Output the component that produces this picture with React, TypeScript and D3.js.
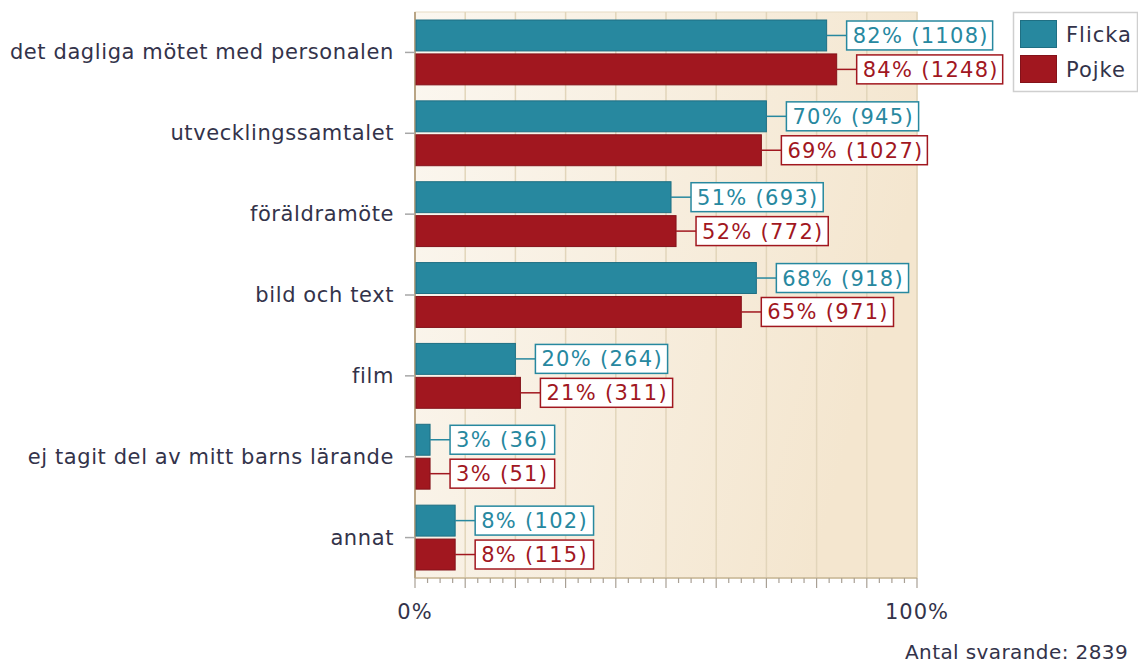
import React from "react";
import * as d3 from "d3";

const categories = [
  "det dagliga mötet med personalen",
  "utvecklingssamtalet",
  "föräldramöte",
  "bild och text",
  "film",
  "ej tagit del av mitt barns lärande",
  "annat",
];
const seriesNames = ["Flicka", "Pojke"];
const flickaPct = [82, 70, 51, 68, 20, 3, 8];
const flickaCount = [1108, 945, 693, 918, 264, 36, 102];
const pojkePct = [84, 69, 52, 65, 21, 3, 8];
const pojkeCount = [1248, 1027, 772, 971, 311, 51, 115];
const xTicks = [0, 100];
const totalText = "Antal svarande: 2839";

const colors = ["#27889f", "#a1171f"];
const strokes = ["#1f6f83", "#84121a"];
const textColor = "#33334a";
const font = "'DejaVu Sans', Verdana, sans-serif";

const left = 415;
const right = 917;
const top = 12;
const bottom = 578;

export default function App() {
  const x = d3.scaleLinear().domain([0, 100]).range([left, right]);
  const y = d3.scaleBand().domain(categories).range([top, bottom]);
  const sub = d3
    .scaleBand()
    .domain(seriesNames)
    .range([8, y.bandwidth() - 8])
    .paddingInner(0.088);

  const series = [
    { name: "Flicka", pct: flickaPct, count: flickaCount },
    { name: "Pojke", pct: pojkePct, count: pojkeCount },
  ];

  const minor = d3.range(0, 100.01, 2.5);
  const major = d3.range(10, 100, 10);

  return (
    <svg
      width={1138}
      height={663}
      style={{ position: "absolute", left: 0, top: 0, fontFamily: font }}
    >
      <defs>
        <linearGradient id="bg" x1="0" y1="0" x2="1" y2="0.3">
          <stop offset="0%" stopColor="#fbf7f0" />
          <stop offset="100%" stopColor="#f4e6cf" />
        </linearGradient>
      </defs>

      <rect
        x={left}
        y={top}
        width={right - left}
        height={bottom - top}
        fill="url(#bg)"
        stroke="#e8dcc4"
      />
      {major.map((t) => (
        <line
          key={t}
          x1={x(t)}
          x2={x(t)}
          y1={top}
          y2={bottom}
          stroke="#e2d5ba"
          strokeWidth={1.5}
        />
      ))}
      <line x1={right} x2={right} y1={top} y2={bottom} stroke="#e2d5ba" strokeWidth={1.5} />

      {/* bottom axis */}
      <line x1={left} x2={right} y1={bottom} y2={bottom} stroke="#c8b796" strokeWidth={1.5} />
      {minor.map((t) => (
        <line
          key={t}
          x1={x(t)}
          x2={x(t)}
          y1={bottom}
          y2={bottom + (t % 10 === 0 ? 10 : 5)}
          stroke="#a9a095"
          strokeWidth={1.2}
        />
      ))}
      {xTicks.map((t) => (
        <text
          key={t}
          x={x(t)}
          y={619}
          textAnchor="middle"
          fontSize={21}
          letterSpacing={1}
          fill={textColor}
        >
          {t}%
        </text>
      ))}

      {/* left axis */}
      <line x1={left} x2={left} y1={top} y2={bottom} stroke="#b9a585" strokeWidth={2} />
      {categories.map((c) => {
        const cy = (y(c) as number) + y.bandwidth() / 2;
        return (
          <g key={c}>
            <line x1={left - 10} x2={left} y1={cy} y2={cy} stroke="#a7a7a7" strokeWidth={1.5} />
            <text
              x={394}
              y={cy + 7}
              textAnchor="end"
              fontSize={21}
              letterSpacing={0.6}
              fill={textColor}
            >
              {c}
            </text>
          </g>
        );
      })}

      {/* bars and value labels */}
      {series.map((s, si) =>
        categories.map((c, i) => {
          const by = (y(c) as number) + (sub(s.name) as number);
          const bh = sub.bandwidth();
          const end = x(s.pct[i]);
          const label = `${s.pct[i]}% (${s.count[i]})`;
          const boxX = end + 20;
          const boxW = label.length * 13.8 + 8;
          return (
            <g key={s.name + c}>
              <rect
                x={left + 1}
                y={by}
                width={end - left - 1}
                height={bh}
                fill={colors[si]}
                stroke={strokes[si]}
                strokeWidth={1}
              />
              <line
                x1={end}
                x2={boxX}
                y1={by + bh / 2}
                y2={by + bh / 2}
                stroke={colors[si]}
                strokeWidth={1.5}
              />
              <rect
                x={boxX}
                y={by + 1}
                width={boxW}
                height={bh - 2}
                fill="#ffffff"
                stroke={colors[si]}
                strokeWidth={1.5}
              />
              <text
                x={boxX + 6}
                y={by + bh / 2 + 7.5}
                fontSize={21}
                letterSpacing={1.3}
                fill={colors[si]}
              >
                {label}
              </text>
            </g>
          );
        })
      )}

      {/* legend */}
      <rect x={1013.5} y={12.5} width={124} height={79} fill="#ffffff" stroke="#cfcfcf" strokeWidth={1.5} />
      {seriesNames.map((n, i) => (
        <g key={n}>
          <rect
            x={1020.5}
            y={20.5 + i * 35}
            width={36}
            height={27}
            fill={colors[i]}
            stroke={strokes[i]}
          />
          <text x={1066} y={42 + i * 35} fontSize={21} letterSpacing={1} fill={textColor}>
            {n}
          </text>
        </g>
      ))}

      <text x={905} y={659} fontSize={20} letterSpacing={0.4} fill={textColor}>
        {totalText}
      </text>
    </svg>
  );
}
